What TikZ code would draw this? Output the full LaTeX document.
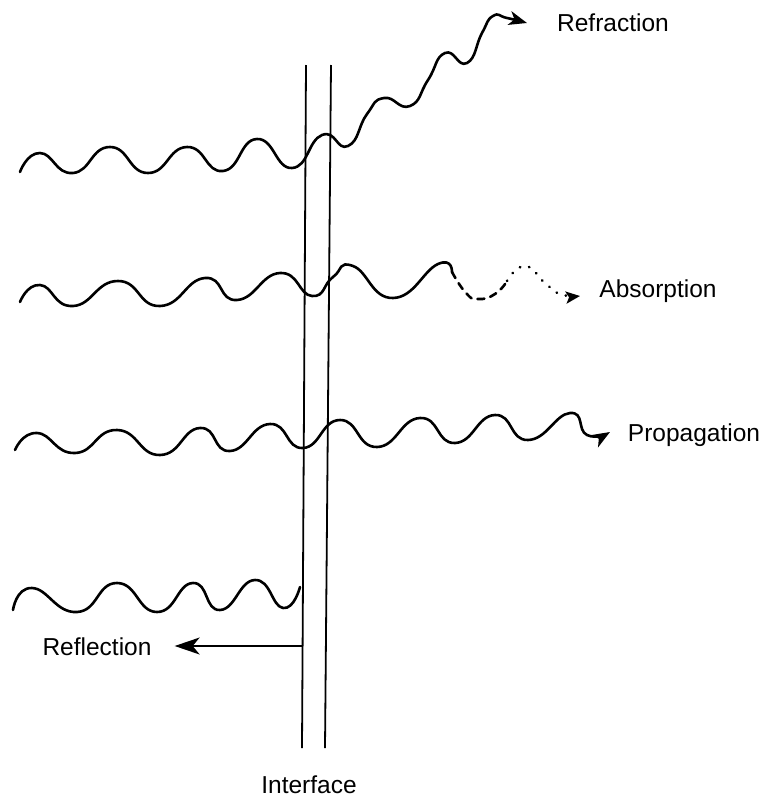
\documentclass[tikz,border=0pt]{standalone}
\usepackage{fontspec}
\setmainfont{Liberation Sans}
\usepackage{tikz}
\usetikzlibrary{arrows.meta}

\begin{document}
\begin{tikzpicture}[x=1pt,y=-1pt,
  wave/.style={line width=2.6pt,line cap=round,line join=round},
  wall/.style={line width=1.8pt},
  lbl/.style={font=\fontsize{24.5}{29}\selectfont,inner sep=0pt},
  tip/.style={-{Stealth[length=18pt,width=14pt,inset=5pt]}}]

\useasboundingbox (0,0) rectangle (766,801);

% Interface
\draw[wall] (306,65) -- (302,748);
\draw[wall] (331,65) -- (325,748);
\node[lbl] (interface) at (309,785) {Interface};

% Refraction
\draw[wave,tip] plot[smooth,tension=0.9] coordinates {
  (20,172) (40,153) (73,173) (110,147) (148,173) (187,147) (223,171)
  (257,139) (292,168) (322,135) (348,146) (367,114)
  (384,98) (410,106) (428,80) (445,53) (467,63) (482,33) (493,16)
  (507,18) (527,23)};
\node[lbl] (refraction) at (613,23) {Refraction};

% Absorption
\draw[wave] plot[smooth,tension=0.9] coordinates {
  (20,302) (40,285) (73,306) (118,281) (160,306) (205,278) (237,300)
  (280,273) (312,296) (333,277) (353,266) (393,298)
  (438,264) (452,272)};
\draw[wave,dash pattern=on 7pt off 6pt] plot[smooth,tension=0.9] coordinates {
  (452,272) (466,293) (478,299) (495,294) (507,281)};
\draw[wave,dash pattern=on 0.5pt off 9pt,-{Stealth[length=14pt,width=12pt,inset=3pt]}] plot[smooth,tension=0.9] coordinates {
  (507,281) (525,266) (545,283) (560,294) (580,296)};
\node[lbl] (absorption) at (658,291) {Absorption};

% Propagation
\draw[wave,tip] plot[smooth,tension=0.9] coordinates {
  (15,450) (37,433) (75,453) (117,430) (160,455) (200,428) (230,451)
  (270,424) (303,448) (340,420) (377,447) (420,418) (455,443)
  (495,415) (528,440) (570,413) (587,435) (610,432)};
\node[lbl] (propagation) at (694,435) {Propagation};

% Reflection
\draw[wave] plot[smooth,tension=0.9] coordinates {
  (13,610) (32,588) (77,612) (117,583) (157,612) (193,583) (220,610)
  (255,580) (283,608) (300,587)};
\node[lbl] (reflection) at (97,647) {Reflection};
\coordinate (foot) at (302,646);
\draw[line width=1.4pt,-{Stealth[length=25pt,width=17pt,inset=7pt]}]
  (foot) -- ([xshift=23pt]reflection.east |- foot);

\end{tikzpicture}
\end{document}
